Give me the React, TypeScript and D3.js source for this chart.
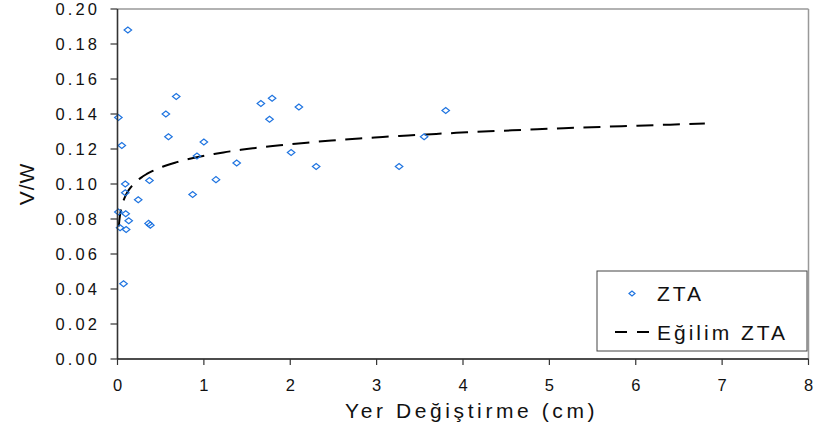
import React from "react";
import * as d3 from "d3";

const W = 823;
const H = 431;

// Scatter data: ZTA
const xVals = [0.12, 0.01, 0.05, 0.09, 0.09, 0.24, 0.01, 0.095, 0.13, 0.03, 0.10, 0.36, 0.38, 0.07, 0.87, 0.37, 1.14, 0.92, 1.00, 0.59, 0.56, 0.68, 1.38, 1.66, 1.79, 1.76, 2.10, 2.01, 2.30, 3.80, 3.55, 3.26];
const yVals = [0.188, 0.138, 0.122, 0.100, 0.095, 0.091, 0.084, 0.083, 0.079, 0.075, 0.074, 0.0775, 0.0765, 0.043, 0.094, 0.102, 0.1025, 0.116, 0.124, 0.127, 0.140, 0.150, 0.112, 0.146, 0.149, 0.137, 0.144, 0.118, 0.110, 0.142, 0.127, 0.110];

// Logarithmic trendline (Eğilim ZTA): y = a ln(x) + b
const TREND_A = 0.0096;
const TREND_B = 0.1161;
const TREND_X_RANGE = [0.015, 6.8];

const xTicks = [0, 1, 2, 3, 4, 5, 6, 7, 8];
const yTicks = [0, 0.02, 0.04, 0.06, 0.08, 0.1, 0.12, 0.14, 0.16, 0.18, 0.2];

const seriesName = "ZTA";
const trendName = "Eğilim ZTA";
const xTitle = "Yer Değiştirme (cm)";
const yTitle = "V/W";

const FONT = "'Liberation Sans', Arial, sans-serif";
const BLUE = "#1f74e0";

export default function App() {
  const left = 117.5, right = 808.5, top = 9, bottom = 359;
  const x = d3.scaleLinear().domain([0, 8]).range([left, right]);
  const y = d3.scaleLinear().domain([0, 0.2]).range([bottom, top]);

  const logS = d3.scaleLog().domain(TREND_X_RANGE).range([0, 1]);
  const trendPts: [number, number][] = d3.range(0, 1.0001, 0.005).map((t) => {
    const xv = logS.invert(t);
    return [xv, TREND_A * Math.log(xv) + TREND_B];
  });
  const line = d3.line<[number, number]>().x((d) => x(d[0])).y((d) => y(d[1]));

  const diamond = (cx: number, cy: number, w: number, h: number) =>
    `M${cx - w / 2},${cy} L${cx},${cy - h / 2} L${cx + w / 2},${cy} L${cx},${cy + h / 2} Z`;

  return (
    <svg width={W} height={H} style={{ position: "absolute", left: 0, top: 0, background: "#fff" }} fontFamily={FONT}>
      <rect x={0} y={0} width={W} height={H} fill="#fff" />
      {/* frame top/right */}
      <line x1={left} x2={right} y1={top} y2={top} stroke="#999" strokeWidth={1.5} />
      <line x1={right} x2={right} y1={top} y2={bottom} stroke="#999" strokeWidth={1.5} />

      {/* trend line */}
      <path d={line(trendPts) || ""} fill="none" stroke="#000" strokeWidth={2} strokeDasharray="17 9.5" />

      {/* scatter */}
      {xVals.map((xv, i) => (
        <path key={i} d={diamond(x(xv), y(yVals[i]), 7.5, 6)} fill="none" stroke={BLUE} strokeWidth={1.2} />
      ))}

      {/* axes */}
      <line x1={left} x2={left} y1={top} y2={bottom} stroke="#333" strokeWidth={1.6} />
      <line x1={left} x2={right} y1={bottom} y2={bottom} stroke="#111" strokeWidth={1.5} />
      {yTicks.map((t) => (
        <g key={"y" + t}>
          <line x1={left - 7} x2={left} y1={y(t)} y2={y(t)} stroke="#333" strokeWidth={1.2} />
          <text x={100} y={y(t)} dy="0.36em" textAnchor="end" fontSize={16.5} letterSpacing={3.1} fill="#111">
            {t.toFixed(2)}
          </text>
        </g>
      ))}
      {xTicks.map((t) => (
        <g key={"x" + t}>
          <line x1={x(t)} x2={x(t)} y1={bottom} y2={bottom + 6} stroke="#333" strokeWidth={1.2} />
          <text x={x(t) + 1.5} y={391} textAnchor="middle" fontSize={16.5} letterSpacing={3} fill="#111">
            {t}
          </text>
        </g>
      ))}

      {/* axis titles */}
      <text x={345} y={418} fontSize={21} letterSpacing={3.6} fill="#111">{xTitle}</text>
      <text transform={`translate(34,${(top + bottom) / 2}) rotate(-90)`} textAnchor="middle" fontSize={21} letterSpacing={1} fill="#111">
        {yTitle}
      </text>

      {/* legend */}
      <rect x={597} y={271} width={210} height={80} fill="#fff" stroke="#444" strokeWidth={1} />
      <path d={diamond(632, 293.5, 6, 5)} fill="none" stroke={BLUE} strokeWidth={1.2} />
      <text x={657} y={301} fontSize={21} letterSpacing={3} fill="#111">{seriesName}</text>
      <line x1={615} x2={653} y1={332} y2={332} stroke="#000" strokeWidth={2} strokeDasharray="12 10" />
      <text x={657} y={339.5} fontSize={21} letterSpacing={3} fill="#111">{trendName}</text>
    </svg>
  );
}
